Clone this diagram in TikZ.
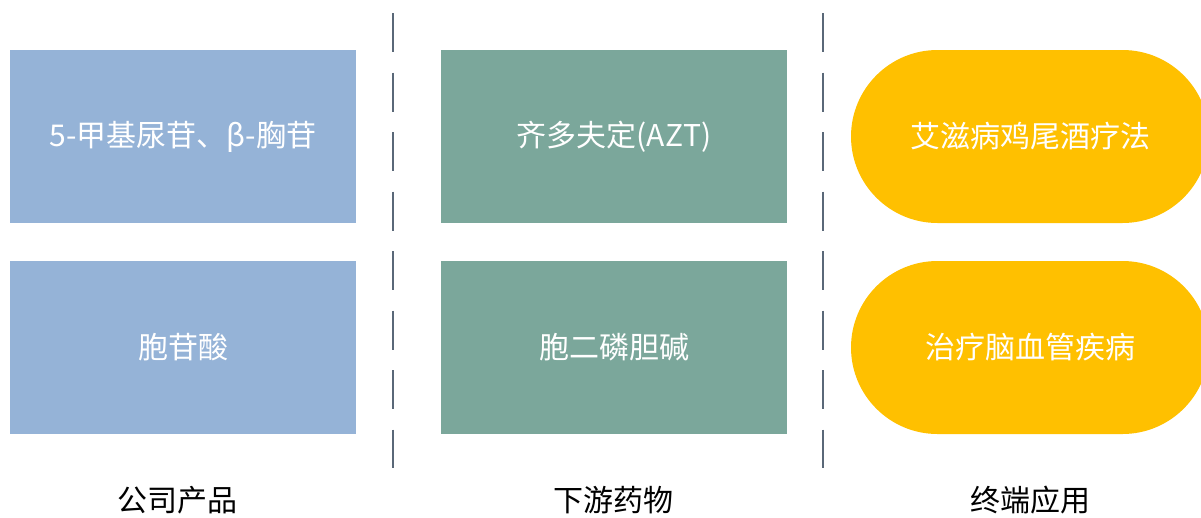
\documentclass[tikz,border=0pt]{standalone}
\usepackage{fontspec}
\setmainfont{Noto Sans CJK SC}
\usetikzlibrary{positioning}
\definecolor{cblue}{HTML}{95B3D7}
\definecolor{cgreen}{HTML}{7BA79B}
\definecolor{cyellow}{HTML}{FFC000}
\definecolor{cdash}{HTML}{5A6878}
\begin{document}
\begin{tikzpicture}[x=1pt,y=-1pt,
  boxtxt/.style={text=white,font=\fontsize{30}{33}\selectfont},
  bluebox/.style={fill=cblue,draw=none,minimum width=346pt,minimum height=173pt,inner sep=0pt,boxtxt},
  greenbox/.style={fill=cgreen,draw=none,minimum width=346pt,minimum height=173pt,inner sep=0pt,boxtxt},
  pill/.style={fill=cyellow,draw=none,rounded corners=86.5pt,minimum width=358pt,minimum height=173pt,inner sep=0pt,boxtxt},
  sep/.style={draw=cdash,line width=2pt,dash pattern=on 39pt off 20.5pt},
  collabel/.style={text=black,font=\fontsize{30}{32}\selectfont,inner sep=0pt}]
\useasboundingbox (0,0) rectangle (1201,517);
\begin{scope}
\clip (0,0) rectangle (1201,517);
\node[bluebox] (b1) at (183,136.5) {5-甲基尿苷、β-胸苷};
\node[bluebox] (b2) at (183,347.5) {胞苷酸};
\node[greenbox] (g1) at (614,136.5) {齐多夫定(AZT)};
\node[greenbox] (g2) at (614,347.5) {胞二磷胆碱};
\node[pill] (y1) at (1030,136.5) {艾滋病鸡尾酒疗法};
\node[pill] (y2) at (1030,347.5) {治疗脑血管疾病};
\end{scope}
\coordinate (d1t) at (393,13);
\coordinate (d1b) at (393,468);
\coordinate (d2t) at (823,13);
\coordinate (d2b) at (823,468);
\draw[sep] (d1t) -- (d1b);
\draw[sep] (d2t) -- (d2b);
\node[collabel] (l1) at (177,500) {公司产品};
\node[collabel] (l2) at (613,500) {下游药物};
\node[collabel] (l3) at (1030,500) {终端应用};
\end{tikzpicture}
\end{document}
